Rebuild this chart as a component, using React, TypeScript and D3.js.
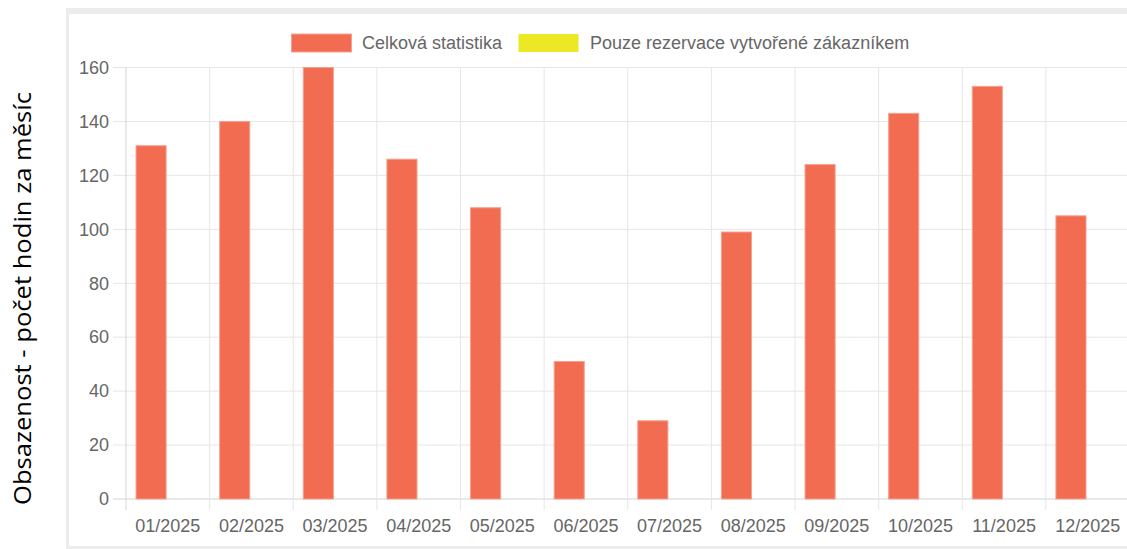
import React from 'react';
import * as d3 from 'd3';

const months = ['01/2025', '02/2025', '03/2025', '04/2025', '05/2025', '06/2025', '07/2025', '08/2025', '09/2025', '10/2025', '11/2025', '12/2025'];
const totalHours = [131, 140, 160, 126, 108, 51, 29, 99, 124, 143, 153, 105];
const customerHours = [0, 0, 0, 0, 0, 0, 0, 0, 0, 0, 0, 0];
const seriesNames = ['Celková statistika', 'Pouze rezervace vytvořené zákazníkem'];
const seriesColors = ['#f26c51', '#ede825'];
const yTicks = [0, 20, 40, 60, 80, 100, 120, 140, 160];
const yTitle = 'Obsazenost - počet hodin za měsíc';

const W = 1127;
const H = 549;

const App = () => {
  const left = 126;
  const right = 1129.5;
  const top = 67.5;
  const bottom = 499;

  const x = d3.scaleBand().domain(months).range([left, right]).paddingInner(0).paddingOuter(0);
  const bw = x.bandwidth();
  const xs = d3.scaleBand().domain(seriesNames).range([bw * 0.1, bw * 0.9]).paddingInner(0.1).paddingOuter(0.05);
  const y = d3.scaleLinear().domain([0, 160]).range([bottom, top]);

  const series = [totalHours, customerHours];
  const font = '"Liberation Sans", Arial, Helvetica, sans-serif';

  return (
    <div style={{ position: 'absolute', left: 0, top: 0 }}>
      <svg width={W} height={H} style={{ display: 'block' }}>
        <rect x={0} y={0} width={W} height={H} fill="#fff" />
        {/* panel frame */}
        <rect x={66} y={8} width={W} height={H - 8} fill="#ececec" />
        <rect x={69} y={14} width={W} height={532} fill="#fff" />

        {/* horizontal grid */}
        {yTicks.map(t => (
          <line key={'h' + t} x1={113} x2={right} y1={y(t)} y2={y(t)}
            stroke={t === 0 ? '#d4d4d4' : '#e6e6e6'} strokeWidth={1} />
        ))}
        {/* vertical grid */}
        {months.map((m, i) => (
          <line key={'v' + m} x1={x(m)!} x2={x(m)!} y1={top} y2={510}
            stroke={i === 0 ? '#d4d4d4' : '#e6e6e6'} strokeWidth={1} />
        ))}

        {/* bars */}
        {series.map((vals, si) => (
          <g key={si}>
            {vals.map((v, i) => v > 0 && (
              <rect key={i}
                x={x(months[i])! + xs(seriesNames[si])!}
                y={y(v)}
                width={xs.bandwidth()}
                height={bottom - y(v)}
                fill={seriesColors[si]}
                stroke={si === 0 ? '#f5a190' : 'none'}
                strokeWidth={1} />
            ))}
          </g>
        ))}

        {/* y tick labels */}
        {yTicks.map(t => (
          <text key={'yl' + t} x={109} y={y(t)} dy="0.35em" textAnchor="end"
            fontFamily={font} fontSize={18} fill="#666">{t}</text>
        ))}
        {/* x tick labels */}
        {months.map(m => (
          <text key={'xl' + m} x={x(m)! + bw / 2} y={532} textAnchor="middle"
            fontFamily={font} fontSize={18} fill="#666">{m}</text>
        ))}

        {/* legend */}
        <rect x={291.5} y={34} width={60} height={18} fill={seriesColors[0]} stroke="#f5a190" strokeWidth={1} />
        <text x={362} y={49} fontFamily={font} fontSize={18} fill="#666">{seriesNames[0]}</text>
        <rect x={518.5} y={34} width={60} height={18} fill={seriesColors[1]} />
        <text x={590} y={49} fontFamily={font} fontSize={18} fill="#666">{seriesNames[1]}</text>

        {/* y axis title */}
        <text transform="translate(31,298.5) rotate(-90)" textAnchor="middle"
          fontFamily='"Open Sans", "Noto Sans", sans-serif' fontSize={23} fill="#000"
          textLength={413} lengthAdjust="spacingAndGlyphs">{yTitle}</text>
      </svg>
    </div>
  );
};

export default App;
